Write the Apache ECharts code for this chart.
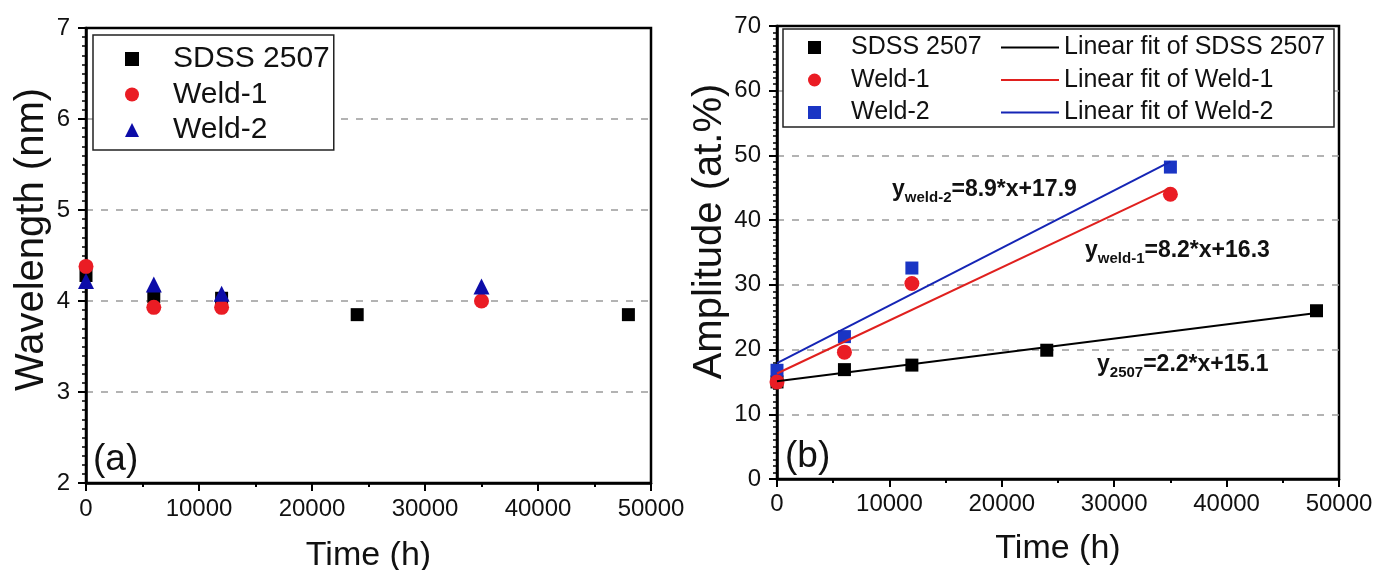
<!DOCTYPE html>
<html><head><meta charset="utf-8">
<script src="https://cdn.jsdelivr.net/npm/echarts@6/dist/echarts.min.js"></script>
<style>html,body{margin:0;padding:0;background:#fff}#c{width:1375px;height:570px}</style>
</head><body><div id="c"></div>
<script>
// ---- data ----
const timeSdss = [0, 6000, 12000, 24000, 48000];
const timeWeld = [0, 6000, 12000, 35000];
const waveSdss = [4.28, 4.05, 4.03, 3.85, 3.85];
const waveWeld1 = [4.38, 3.93, 3.93, 4.0];
const waveWeld2 = [4.22, 4.18, 4.08, 4.16];
const ampSdss = [15.0, 16.9, 17.6, 19.9, 26.0];
const ampWeld1 = [15.0, 19.6, 30.2, 44.0];
const ampWeld2 = [16.8, 22.0, 32.6, 48.2];
const fitNames = ['Linear fit of SDSS 2507', 'Linear fit of Weld-1', 'Linear fit of Weld-2'];
const fitSlope = [2.2, 8.2, 8.9];        // per 10^4 h
const fitIntercept = [15.1, 16.3, 17.9];
const fitEnd = [48000, 35000, 35000];
const seriesNames = ['SDSS 2507', 'Weld-1', 'Weld-2'];
const eqLabels = [['weld-2', '=8.9*x+17.9'], ['weld-1', '=8.2*x+16.3'], ['2507', '=2.2*x+15.1']];

const FONT = 'Liberation Sans, Arial, sans-serif';
const RED = '#ea1c24', BLUE_T = '#0c0ca8', BLUE_S = '#1a35c4';
const pairs = (xs, ys) => xs.map((x, i) => [x, ys[i]]);
const fitLine = i => [[0, fitIntercept[i]], [fitEnd[i], fitIntercept[i] + fitSlope[i] * fitEnd[i] / 1e4]];

function xAxisCfg(gi, gap, margin) {
  return {
    gridIndex: gi, type: 'value', min: 0, max: 50000, interval: 10000,
    name: 'Time (h)', nameLocation: 'middle', nameGap: gap,
    nameTextStyle: { fontFamily: FONT, fontSize: 34, color: '#111' },
    axisLine: { show: true, lineStyle: { color: '#000', width: 2.5 } },
    axisTick: { show: true, length: 8, lineStyle: { color: '#000', width: 2 } },
    minorTick: { show: true, splitNumber: 2, length: 4, lineStyle: { color: '#000', width: 2 } },
    axisLabel: { fontFamily: FONT, fontSize: 24, color: '#111', margin, formatter: v => String(v) },
    splitLine: { show: false }
  };
}
function yAxisCfg(gi, name, min, max, interval, gap, shift) {
  return {
    gridIndex: gi, type: 'value', min, max, interval,
    name, nameLocation: 'middle', nameGap: gap,
    nameTextStyle: { fontFamily: FONT, fontSize: 40, color: '#111', padding: [0, 0, 0, shift] },
    axisLine: { show: true, lineStyle: { color: '#000', width: 2.5 } },
    axisTick: { show: true, length: 8, lineStyle: { color: '#000', width: 2 } },
    minorTick: { show: true, splitNumber: 10, length: 4, lineStyle: { color: '#000', width: 1.5 } },
    axisLabel: { fontFamily: FONT, fontSize: 24, color: '#111', margin: 16, formatter: v => String(v) },
    splitLine: { show: true, showMinLine: false, showMaxLine: false,
      lineStyle: { color: '#9a9a9a', width: 1.5, type: [7, 8] } }
  };
}

const chart = echarts.init(document.getElementById('c'), null, { renderer: 'canvas' });
const eqStyle = (sub, rest) => ({
  text: '{m|y}{s|' + sub + '}{m|' + rest + '}',
  rich: {
    m: { fontFamily: FONT, fontSize: 23, fontWeight: 'bold', fill: '#111', lineHeight: 24, verticalAlign: 'top' },
    s: { fontFamily: FONT, fontSize: 15, fontWeight: 'bold', fill: '#111', lineHeight: 16, padding: [12, 0, 0, 0], verticalAlign: 'top' }
  },
  textVerticalAlign: 'middle', textAlign: 'left'
});

chart.setOption({
  animation: false,
  backgroundColor: '#fff',
  grid: [
    { left: 86, top: 28, width: 565, height: 455, show: true, borderColor: '#000', borderWidth: 2.5,
      containLabel: false, outerBoundsMode: 'none' },
    { left: 777, top: 26, width: 562, height: 453, show: true, borderColor: '#000', borderWidth: 2.5,
      containLabel: false, outerBoundsMode: 'none' }
  ],
  xAxis: [xAxisCfg(0, 56, 14), xAxisCfg(1, 53, 13)],
  yAxis: [
    yAxisCfg(0, 'Wavelength (nm)', 2, 7, 1, 34, 32),
    yAxisCfg(1, 'Amplitude (at.%)', 0, 70, 10, 45, 42)
  ],
  legend: [
    {
      left: 93, top: 35, orient: 'vertical', itemWidth: 14, itemHeight: 14, itemGap: 5.5,
      padding: [9, 4, 5, 32], borderColor: '#222', borderWidth: 1.5, backgroundColor: '#fff',
      selectedMode: false, itemStyle: { opacity: 1 },
      textStyle: { fontFamily: FONT, fontSize: 30, color: '#111', lineHeight: 30, padding: [0, 0, 0, 29] },
      data: [
        { name: seriesNames[0], icon: 'rect', itemStyle: { color: '#000', opacity: 1 } },
        { name: seriesNames[1], icon: 'circle', itemStyle: { color: RED, opacity: 1 } },
        { name: seriesNames[2], icon: 'triangle', itemStyle: { color: BLUE_T, opacity: 1 } }
      ]
    },
    {
      left: 808, top: 34, orient: 'vertical', itemWidth: 13, itemHeight: 13, itemGap: 5.5,
      padding: 0, selectedMode: false, z: 10, itemStyle: { opacity: 1 },
      textStyle: { fontFamily: FONT, fontSize: 25, color: '#111', lineHeight: 27, padding: [0, 0, 0, 25] },
      data: [
        { name: seriesNames[0], icon: 'rect', itemStyle: { color: '#000', opacity: 1 } },
        { name: seriesNames[1], icon: 'circle', itemStyle: { color: RED, opacity: 1 } },
        { name: seriesNames[2], icon: 'rect', itemStyle: { color: BLUE_S, opacity: 1 } }
      ]
    },
    {
      left: 1001, top: 34, orient: 'vertical', itemWidth: 58, itemHeight: 2, itemGap: 5.5,
      padding: 0, selectedMode: false, z: 10,
      textStyle: { fontFamily: FONT, fontSize: 25, color: '#111', lineHeight: 27 },
      data: fitNames.map(n => ({ name: n, icon: 'rect' }))
    }
  ],
  graphic: [
    { type: 'rect', z: 3, shape: { x: 783, y: 29, width: 551, height: 98 },
      style: { fill: '#fff', stroke: '#222', lineWidth: 1.5 } },
    { type: 'text', x: 93, y: 460, z: 5, style: { text: '(a)', fontFamily: FONT, fontSize: 37, fill: '#111', textVerticalAlign: 'middle' } },
    { type: 'text', x: 785, y: 457, z: 5, style: { text: '(b)', fontFamily: FONT, fontSize: 37, fill: '#111', textVerticalAlign: 'middle' } },
    { type: 'text', x: 892, y: 190, z: 5, style: eqStyle(eqLabels[0][0], eqLabels[0][1]) },
    { type: 'text', x: 1085, y: 251, z: 5, style: eqStyle(eqLabels[1][0], eqLabels[1][1]) },
    { type: 'text', x: 1097, y: 365, z: 5, style: eqStyle(eqLabels[2][0], eqLabels[2][1]) }
  ],
  series: [
    { name: seriesNames[0], type: 'scatter', xAxisIndex: 0, yAxisIndex: 0, symbol: 'rect', symbolSize: 13,
      itemStyle: { color: '#000', opacity: 1 }, data: pairs(timeSdss, waveSdss), z: 2 },
    { name: seriesNames[1], type: 'scatter', xAxisIndex: 0, yAxisIndex: 0, symbol: 'circle', symbolSize: 15,
      itemStyle: { color: RED, opacity: 1 }, data: pairs(timeWeld, waveWeld1), z: 3 },
    { name: seriesNames[2], type: 'scatter', xAxisIndex: 0, yAxisIndex: 0, symbol: 'triangle', symbolSize: 16,
      itemStyle: { color: BLUE_T, opacity: 1 }, data: pairs(timeWeld, waveWeld2), z: 4 },

    { name: seriesNames[0], type: 'scatter', xAxisIndex: 1, yAxisIndex: 1, symbol: 'rect', symbolSize: 13,
      itemStyle: { color: '#000', opacity: 1 }, data: pairs(timeSdss, ampSdss), z: 2 },
    { name: seriesNames[2], type: 'scatter', xAxisIndex: 1, yAxisIndex: 1, symbol: 'rect', symbolSize: 13,
      itemStyle: { color: BLUE_S, opacity: 1 }, data: pairs(timeWeld, ampWeld2), z: 3 },
    { name: seriesNames[1], type: 'scatter', xAxisIndex: 1, yAxisIndex: 1, symbol: 'circle', symbolSize: 15,
      itemStyle: { color: RED, opacity: 1 }, data: pairs(timeWeld, ampWeld1), z: 4 },

    { name: fitNames[0], type: 'line', xAxisIndex: 1, yAxisIndex: 1, symbol: 'none', z: 6,
      lineStyle: { color: '#000', width: 2 }, itemStyle: { color: '#000' }, data: fitLine(0) },
    { name: fitNames[1], type: 'line', xAxisIndex: 1, yAxisIndex: 1, symbol: 'none', z: 6,
      lineStyle: { color: '#e0201e', width: 2 }, itemStyle: { color: '#e0201e' }, data: fitLine(1) },
    { name: fitNames[2], type: 'line', xAxisIndex: 1, yAxisIndex: 1, symbol: 'none', z: 6,
      lineStyle: { color: '#1525b5', width: 2 }, itemStyle: { color: '#1525b5' }, data: fitLine(2) }
  ]
});
</script>
</body></html>
